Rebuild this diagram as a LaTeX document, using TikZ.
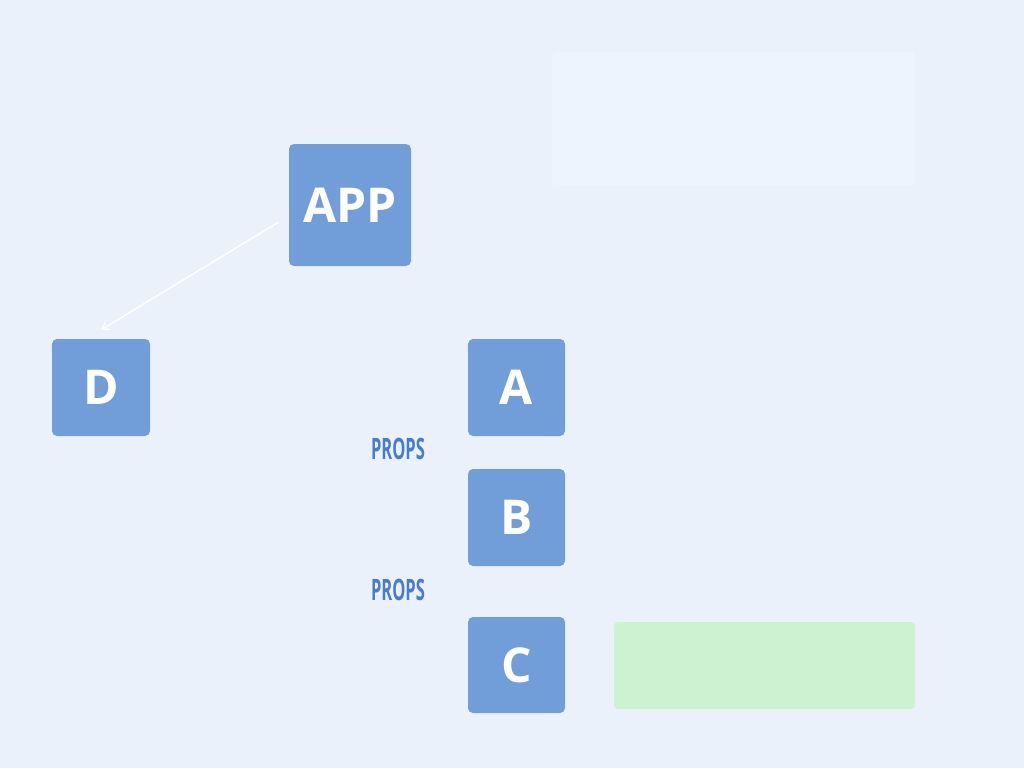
\documentclass[tikz,border=0pt]{standalone}
\usepackage{fontspec}
\setmainfont{Open Sans}
\newfontfamily\boxfont{Open Sans}
\newfontfamily\propsfont[FakeStretch=0.56]{Open Sans}
\usetikzlibrary{arrows.meta}
\definecolor{bg}{HTML}{EAF1FB}
\definecolor{panel}{HTML}{EEF4FD}
\definecolor{boxblue}{HTML}{719DD8}
\definecolor{propblue}{HTML}{4A7DC9}
\definecolor{greenbox}{HTML}{CCF2D2}
\tikzset{
  comp/.style={fill=boxblue, rounded corners=5pt, inner sep=0pt, text=white,
    font=\boxfont\bfseries\fontsize{48}{50}\selectfont},
  propslabel/.style={text=propblue, inner sep=0pt, font=\propsfont\bfseries\fontsize{29.5}{32}\selectfont},
}
\begin{document}
\begin{tikzpicture}[x=1pt,y=-1pt]
\useasboundingbox (0,0) rectangle (1024,768);
\fill[bg] (0,0) rectangle (1024,768);
\fill[panel, rounded corners=4pt] (552,52) rectangle (915,185);
\fill[greenbox, rounded corners=4pt] (614,622) rectangle (915,709);
\node[comp, minimum width=122pt, minimum height=122pt] (app) at (350,205) {APP};
\node[comp, minimum width=98pt, minimum height=97pt] (d) at (101,387.5) {D};
\node[comp, minimum width=97pt, minimum height=97pt] (a) at (516.5,387.5) {A};
\node[comp, minimum width=97pt, minimum height=97pt] (b) at (516.5,517.5) {B};
\node[comp, minimum width=97pt, minimum height=96pt] (c) at (516.5,665) {C};
\node[propslabel] (p1) at (398,449) {PROPS};
\node[propslabel] (p2) at (398,590) {PROPS};
\draw[white, line width=1.4pt, -{Straight Barb[length=6pt,width=8pt]}]
  ([xshift=-10pt,yshift=-17pt]app.west) -- ([yshift=9pt]d.north);
\end{tikzpicture}
\end{document}
